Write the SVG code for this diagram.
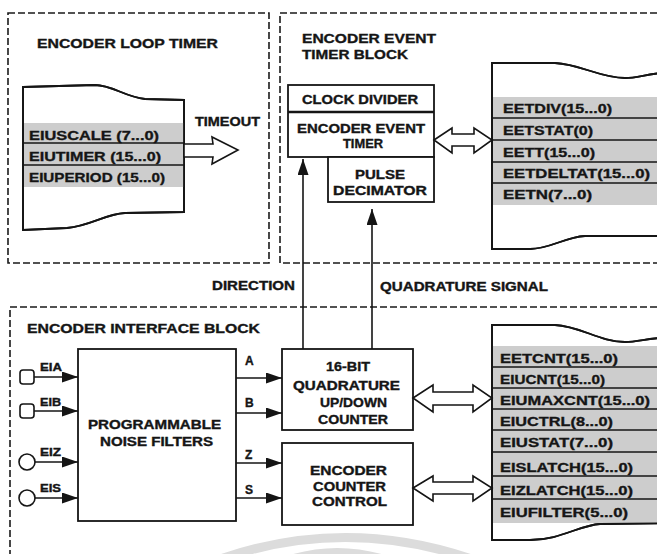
<svg xmlns="http://www.w3.org/2000/svg" width="657" height="554" viewBox="0 0 657 554">
  <defs>
    <style>
      .t { font-family: "Liberation Sans", Arial, sans-serif; font-weight: bold; fill: #151515; stroke: #151515; stroke-width: 0.35; }
      .ttl { font-size: 12.5px; }
      .lbl { font-size: 12px; }
      .reg { font-size: 13px; }
      .pin { font-size: 10px; }
      .panel { fill: none; stroke: #1a1a1a; stroke-width: 1.6; stroke-dasharray: 7 3; }
      .box { fill: #fff; stroke: #151515; stroke-width: 1.8; }
      .regbox { fill: #fff; stroke: #151515; stroke-width: 1.8; }
      .outline { fill: none; stroke: #151515; stroke-width: 1.8; }
      .rows { fill: #cdcdcd; }
      .div { stroke: #151515; stroke-width: 1.6; }
      .wire { fill: none; stroke: #151515; stroke-width: 1.6; }
      .bus { fill: #fff; stroke: #151515; stroke-width: 1.6; stroke-linejoin: miter; }
      .haze { fill: none; stroke: #dcdcdc; stroke-width: 9; }
    </style>
    <marker id="head" markerUnits="userSpaceOnUse" markerWidth="16" markerHeight="11" refX="16" refY="5.5" orient="auto">
      <path d="M0,0 L16,5.5 L0,11 Z" fill="#151515"/>
    </marker>
  </defs>

  <rect width="657" height="554" fill="#fff"/>

  <!-- faint arcs near the bottom edge -->
  <path class="haze" d="M212,562 Q345,513 480,562"/>
  <path class="haze" d="M280,563 Q337,542 395,563" stroke-width="8"/>

  <!-- Encoder loop timer panel -->
  <g id="loop-timer">
    <rect class="panel" x="8" y="13" width="261" height="250"/>
    <text class="t ttl" x="37" y="48" textLength="181" lengthAdjust="spacingAndGlyphs">ENCODER LOOP TIMER</text>
  </g>

  <g id="loop-registers">
    <path class="regbox" d="M23,87 L95,85 C112,85 125,97 145,99 L184,100 L184,212 L125,213 C105,214 90,226 67,228 L23,230 Z"/>
    <rect class="rows" x="24" y="123" width="160" height="64"/>
    <line class="div" x1="23" y1="143" x2="184" y2="143"/>
    <line class="div" x1="23" y1="165" x2="184" y2="165"/>
    <path class="outline" d="M23,87 L95,85 C112,85 125,97 145,99 L184,100 L184,212 L125,213 C105,214 90,226 67,228 L23,230 Z"/>
    <text class="t reg" x="29" y="140" textLength="130" lengthAdjust="spacingAndGlyphs">EIUSCALE (7...0)</text>
    <text class="t reg" x="29" y="161" textLength="132" lengthAdjust="spacingAndGlyphs">EIUTIMER (15...0)</text>
    <text class="t reg" x="29" y="182" textLength="136" lengthAdjust="spacingAndGlyphs">EIUPERIOD (15...0)</text>
  </g>

  <!-- Encoder event timer panel -->
  <g id="event-timer-block">
    <rect class="panel" x="280" y="13" width="400" height="250"/>
    <text class="t ttl" x="302" y="43" textLength="134" lengthAdjust="spacingAndGlyphs">ENCODER EVENT</text>
    <text class="t ttl" x="302" y="59" textLength="106" lengthAdjust="spacingAndGlyphs">TIMER BLOCK</text>
  </g>

  <g id="event-timer">
    <rect class="box" x="288" y="85" width="146" height="72"/>
    <line x1="288" y1="112" x2="434" y2="112" stroke="#151515" stroke-width="2.6"/>
    <text class="t lbl" x="302" y="104" textLength="116" lengthAdjust="spacingAndGlyphs">CLOCK DIVIDER</text>
    <text class="t lbl" x="297" y="133" textLength="128" lengthAdjust="spacingAndGlyphs">ENCODER EVENT</text>
    <text class="t lbl" x="343" y="148" textLength="40" lengthAdjust="spacingAndGlyphs">TIMER</text>
  </g>

  <g id="pulse-decimator">
    <rect class="box" x="328" y="157" width="106" height="45"/>
    <text class="t lbl" x="355" y="179" textLength="50" lengthAdjust="spacingAndGlyphs">PULSE</text>
    <text class="t lbl" x="333" y="195" textLength="94" lengthAdjust="spacingAndGlyphs">DECIMATOR</text>
  </g>

  <g id="event-registers">
    <path class="regbox" d="M492,63 L555,63 C580,64 600,78 625,78 C640,78 650,72 680,72 L680,236 L585,236 C565,237 550,249 530,249 L492,249 Z"/>
    <rect class="rows" x="493" y="97" width="190" height="108"/>
    <line class="div" x1="492" y1="118" x2="680" y2="118"/>
    <line class="div" x1="492" y1="140" x2="680" y2="140"/>
    <line class="div" x1="492" y1="162" x2="680" y2="162"/>
    <line class="div" x1="492" y1="183" x2="680" y2="183"/>
    <path class="outline" d="M492,63 L555,63 C580,64 600,78 625,78 C640,78 650,72 680,72 L680,236 L585,236 C565,237 550,249 530,249 L492,249 Z"/>
    <text class="t reg" x="503" y="113" textLength="109" lengthAdjust="spacingAndGlyphs">EETDIV(15...0)</text>
    <text class="t reg" x="503" y="135" textLength="90" lengthAdjust="spacingAndGlyphs">EETSTAT(0)</text>
    <text class="t reg" x="503" y="157" textLength="92" lengthAdjust="spacingAndGlyphs">EETT(15...0)</text>
    <text class="t reg" x="503" y="178" textLength="147" lengthAdjust="spacingAndGlyphs">EETDELTAT(15...0)</text>
    <text class="t reg" x="503" y="199" textLength="89" lengthAdjust="spacingAndGlyphs">EETN(7...0)</text>
  </g>

  <!-- Encoder interface panel -->
  <g id="interface-block">
    <rect class="panel" x="10" y="307" width="680" height="270"/>
    <text class="t ttl" x="27" y="333" textLength="233" lengthAdjust="spacingAndGlyphs">ENCODER INTERFACE BLOCK</text>
  </g>

  <g id="noise-filters">
    <rect class="box" x="78" y="349" width="158" height="172"/>
    <text class="t lbl" x="88" y="429" textLength="133" lengthAdjust="spacingAndGlyphs">PROGRAMMABLE</text>
    <text class="t lbl" x="100" y="446" textLength="113" lengthAdjust="spacingAndGlyphs">NOISE FILTERS</text>
  </g>

  <g id="pins">
    <rect x="20" y="370" width="14" height="14" rx="3" fill="#fff" stroke="#151515" stroke-width="1.6"/>
    <rect x="20" y="404" width="14" height="14" rx="3" fill="#fff" stroke="#151515" stroke-width="1.6"/>
    <circle cx="27" cy="462" r="8" fill="#fff" stroke="#151515" stroke-width="1.6"/>
    <circle cx="27" cy="498" r="8" fill="#fff" stroke="#151515" stroke-width="1.6"/>
    <text class="t pin" x="40" y="371" textLength="22" lengthAdjust="spacingAndGlyphs">EIA</text>
    <text class="t pin" x="40" y="406" textLength="21" lengthAdjust="spacingAndGlyphs">EIB</text>
    <text class="t pin" x="40" y="456" textLength="21" lengthAdjust="spacingAndGlyphs">EIZ</text>
    <text class="t pin" x="40" y="492" textLength="21" lengthAdjust="spacingAndGlyphs">EIS</text>
  </g>

  <g id="counter">
    <rect class="box" x="282" y="349" width="131" height="81"/>
    <text class="t lbl" x="326" y="371" textLength="44" lengthAdjust="spacingAndGlyphs">16-BIT</text>
    <text class="t lbl" x="293" y="390" textLength="107" lengthAdjust="spacingAndGlyphs">QUADRATURE</text>
    <text class="t lbl" x="320" y="407" textLength="67" lengthAdjust="spacingAndGlyphs">UP/DOWN</text>
    <text class="t lbl" x="318" y="424" textLength="70" lengthAdjust="spacingAndGlyphs">COUNTER</text>
  </g>

  <g id="counter-control">
    <rect class="box" x="282" y="443" width="131" height="82"/>
    <text class="t lbl" x="310" y="475" textLength="77" lengthAdjust="spacingAndGlyphs">ENCODER</text>
    <text class="t lbl" x="313" y="491" textLength="73" lengthAdjust="spacingAndGlyphs">COUNTER</text>
    <text class="t lbl" x="312" y="506" textLength="75" lengthAdjust="spacingAndGlyphs">CONTROL</text>
  </g>

  <g id="interface-registers">
    <path class="regbox" d="M492,325 L555,325 C580,326 600,342 625,342 C640,342 650,337 680,337 L680,523 L600,524 C580,525 560,540 530,540 L492,540 Z"/>
    <rect class="rows" x="493" y="346" width="190" height="177"/>
    <line class="div" x1="492" y1="367" x2="680" y2="367"/>
    <line class="div" x1="492" y1="388" x2="680" y2="388"/>
    <line class="div" x1="492" y1="409" x2="680" y2="409"/>
    <line class="div" x1="492" y1="430" x2="680" y2="430"/>
    <line class="div" x1="492" y1="452" x2="680" y2="452"/>
    <line class="div" x1="492" y1="476" x2="680" y2="476"/>
    <line class="div" x1="492" y1="499" x2="680" y2="499"/>
    <path class="outline" d="M492,325 L555,325 C580,326 600,342 625,342 C640,342 650,337 680,337 L680,523 L600,524 C580,525 560,540 530,540 L492,540 Z"/>
    <text class="t reg" x="500" y="363" textLength="118" lengthAdjust="spacingAndGlyphs">EETCNT(15...0)</text>
    <text class="t reg" x="500" y="384" textLength="105" lengthAdjust="spacingAndGlyphs">EIUCNT(15...0)</text>
    <text class="t reg" x="500" y="405" textLength="150" lengthAdjust="spacingAndGlyphs">EIUMAXCNT(15...0)</text>
    <text class="t reg" x="500" y="426" textLength="113" lengthAdjust="spacingAndGlyphs">EIUCTRL(8...0)</text>
    <text class="t reg" x="500" y="447" textLength="113" lengthAdjust="spacingAndGlyphs">EIUSTAT(7...0)</text>
    <text class="t reg" x="500" y="472" textLength="133" lengthAdjust="spacingAndGlyphs">EISLATCH(15...0)</text>
    <text class="t reg" x="500" y="495" textLength="133" lengthAdjust="spacingAndGlyphs">EIZLATCH(15...0)</text>
    <text class="t reg" x="500" y="517" textLength="128" lengthAdjust="spacingAndGlyphs">EIUFILTER(5...0)</text>
  </g>

  <!-- connectors -->
  <g id="connectors">
    <!-- timeout bus -->
    <polygon class="bus" points="184,144 213,144 212,137 238,150 212,164 213,157 184,157"/>
    <text class="t lbl" x="195" y="126" textLength="65" lengthAdjust="spacingAndGlyphs">TIMEOUT</text>

    <!-- register buses -->
    <polygon class="bus" points="434,140 452,128 452,134 474,134 474,128 492,140 474,153 474,146 452,146 452,153"/>
    <polygon class="bus" points="413,398 433,385 433,392 473,392 473,385 492,398 473,412 473,405 433,405 433,412"/>
    <polygon class="bus" points="413,488 433,476 433,482 473,482 473,476 492,488 473,501 473,494 433,494 433,501"/>

    <!-- pin inputs -->
    <line class="wire" x1="34" y1="377" x2="78" y2="377" marker-end="url(#head)"/>
    <line class="wire" x1="34" y1="411" x2="78" y2="411" marker-end="url(#head)"/>
    <line class="wire" x1="35" y1="462" x2="78" y2="462" marker-end="url(#head)"/>
    <line class="wire" x1="35" y1="498" x2="78" y2="498" marker-end="url(#head)"/>

    <!-- filtered outputs -->
    <line class="wire" x1="236" y1="378" x2="282" y2="378" marker-end="url(#head)"/>
    <line class="wire" x1="236" y1="413" x2="282" y2="413" marker-end="url(#head)"/>
    <line class="wire" x1="236" y1="463" x2="282" y2="463" marker-end="url(#head)"/>
    <line class="wire" x1="236" y1="498" x2="282" y2="498" marker-end="url(#head)"/>
    <text class="t lbl" x="245" y="365">A</text>
    <text class="t lbl" x="245" y="407">B</text>
    <text class="t lbl" x="245" y="459">Z</text>
    <text class="t lbl" x="245" y="494">S</text>

    <!-- direction and quadrature signal -->
    <line class="wire" x1="303" y1="349" x2="303" y2="159" marker-end="url(#head)"/>
    <line class="wire" x1="372" y1="349" x2="372" y2="209" marker-end="url(#head)"/>
    <text class="t lbl" x="212" y="290" textLength="83" lengthAdjust="spacingAndGlyphs">DIRECTION</text>
    <text class="t lbl" x="380" y="291" textLength="168" lengthAdjust="spacingAndGlyphs">QUADRATURE SIGNAL</text>
  </g>
</svg>
